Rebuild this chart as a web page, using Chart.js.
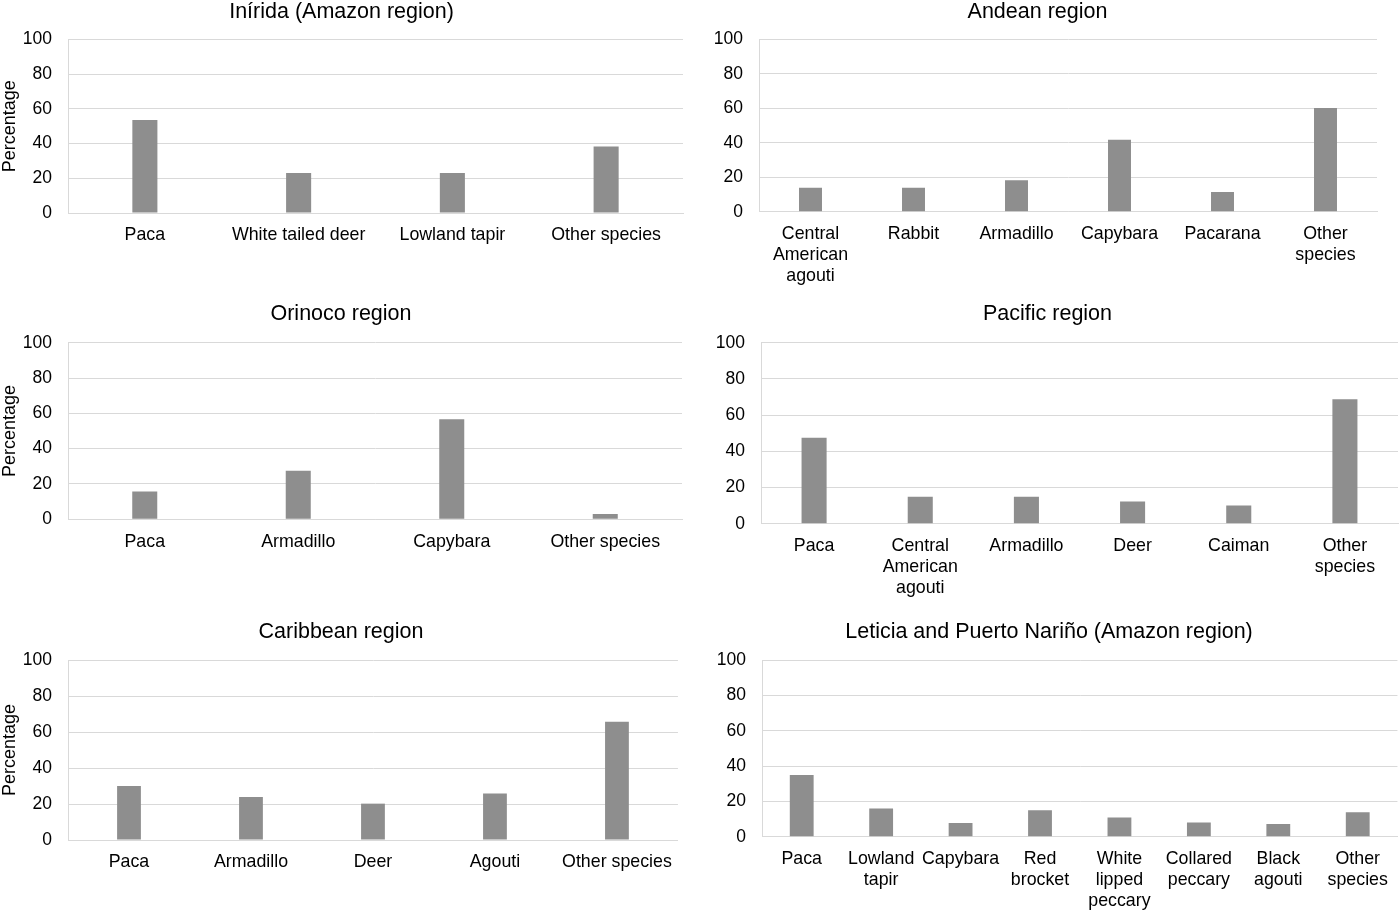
<!DOCTYPE html>
<html>
<head>
<meta charset="utf-8">
<title>Species percentages by region</title>
<script src="https://cdn.jsdelivr.net/npm/chart.js@4.4.1/dist/chart.umd.min.js"></script>
<style>
  html, body { margin: 0; padding: 0; background: #fff; }
  body { width: 1400px; height: 911px; position: relative; overflow: hidden; }
  canvas { position: absolute; }
</style>
</head>
<body>
<canvas id="inirida"></canvas>
<canvas id="andean"></canvas>
<canvas id="orinoco"></canvas>
<canvas id="pacific"></canvas>
<canvas id="caribbean"></canvas>
<canvas id="leticia"></canvas>
<script>
const yTicks = [0, 20, 40, 60, 80, 100];

const iniridaCategories = ["Paca", "White tailed deer", "Lowland tapir", "Other species"];
const iniridaValues = [53.6, 23, 23, 38.3];

const andeanCategories = [["Central", "American", "agouti"], "Rabbit", "Armadillo", "Capybara", "Pacarana", ["Other", "species"]];
const andeanValues = [13.9, 13.9, 18.3, 41.7, 11.4, 60.2];

const orinocoCategories = ["Paca", "Armadillo", "Capybara", "Other species"];
const orinocoValues = [15.8, 27.5, 56.6, 3];

const pacificCategories = ["Paca", ["Central", "American", "agouti"], "Armadillo", "Deer", "Caiman", ["Other", "species"]];
const pacificValues = [47.5, 14.9, 14.9, 12.3, 10, 68.7];

const caribbeanCategories = ["Paca", "Armadillo", "Deer", "Agouti", "Other species"];
const caribbeanValues = [30, 23.9, 20.2, 25.9, 65.7];

const leticiaCategories = ["Paca", ["Lowland", "tapir"], "Capybara", ["Red", "brocket"], ["White", "lipped", "peccary"], ["Collared", "peccary"], ["Black", "agouti"], ["Other", "species"]];
const leticiaValues = [34.9, 16, 7.7, 14.9, 10.8, 8.1, 7.2, 13.8];

const FONT = "'Liberation Sans', Arial, sans-serif";
const BAR_COLOR = "#8e8e8e";
const GRID_COLOR = "#d9d9d9";

// where each small chart sits on the page
const panels = [
  { id: "inirida", title: "Inírida (Amazon region)", labels: iniridaCategories, values: iniridaValues, yTitle: true,
    left: 0, top: 0, bottom: 295, plotLeft: 68, plotRight: 683, plotTop: 39.3, plotBottom: 213, bar: 0.163 },
  { id: "andean", title: "Andean region", labels: andeanCategories, values: andeanValues, yTitle: false,
    left: 698, top: 0, bottom: 295, plotLeft: 759, plotRight: 1377, plotTop: 39.3, plotBottom: 211.7, bar: 0.223 },
  { id: "orinoco", title: "Orinoco region", labels: orinocoCategories, values: orinocoValues, yTitle: true,
    left: 0, top: 302, bottom: 610, plotLeft: 68, plotRight: 682, plotTop: 342.7, plotBottom: 519.3, bar: 0.163 },
  { id: "pacific", title: "Pacific region", labels: pacificCategories, values: pacificValues, yTitle: false,
    left: 697, top: 302, bottom: 610, plotLeft: 761, plotRight: 1398, plotTop: 342.7, plotBottom: 523.7, bar: 0.236 },
  { id: "caribbean", title: "Caribbean region", labels: caribbeanCategories, values: caribbeanValues, yTitle: true,
    left: 0, top: 620, bottom: 911, plotLeft: 68, plotRight: 682, plotTop: 660, plotBottom: 840, bar: 0.195 },
  { id: "leticia", title: "Leticia and Puerto Nariño (Amazon region)", labels: leticiaCategories, values: leticiaValues, yTitle: false,
    left: 700, top: 620, bottom: 911, plotLeft: 762, plotRight: 1398, plotTop: 660, plotBottom: 836.7, bar: 0.30 },
];

const TITLE_LH = 24;
const PAD_RIGHT = 2;

function drawPanel(p) {
  const canvas = document.getElementById(p.id);
  const width = p.plotRight + PAD_RIGHT - p.left;
  const height = p.bottom - p.top;
  canvas.width = width;
  canvas.height = height;
  canvas.style.left = p.left + "px";
  canvas.style.top = p.top + "px";
  canvas.style.width = width + "px";
  canvas.style.height = height + "px";

  new Chart(canvas, {
    type: "bar",
    data: {
      labels: p.labels,
      datasets: [{
        data: p.values,
        backgroundColor: BAR_COLOR,
        borderWidth: 0,
        barPercentage: p.bar,
        categoryPercentage: 1,
      }],
    },
    options: {
      responsive: false,
      animation: false,
      layout: { padding: { left: 0, right: PAD_RIGHT, top: 0, bottom: 0 } },
      plugins: {
        legend: { display: false },
        tooltip: { enabled: false },
        title: {
          display: true,
          text: p.title,
          color: "#000",
          font: { family: FONT, size: 21.5, weight: "normal", lineHeight: TITLE_LH + "px" },
          padding: { top: 0, bottom: p.plotTop - p.top - TITLE_LH },
        },
      },
      scales: {
        x: {
          grid: { display: false, drawTicks: false },
          border: { display: true, color: GRID_COLOR },
          ticks: {
            color: "#000",
            autoSkip: false,
            maxRotation: 0,
            minRotation: 0,
            padding: 12,
            font: { family: FONT, size: 17.8, lineHeight: "21px" },
          },
          afterFit: (s) => { s.height = p.bottom - p.plotBottom; },
        },
        y: {
          min: 0,
          max: 100,
          afterBuildTicks: (s) => { s.ticks = yTicks.map((v) => ({ value: v })); },
          grid: { color: GRID_COLOR, lineWidth: 1, drawTicks: false },
          border: { display: true, color: GRID_COLOR },
          ticks: {
            color: "#000",
            padding: 16,
            font: { family: FONT, size: 17.5 },
          },
          title: {
            display: p.yTitle,
            text: "Percentage",
            color: "#000",
            font: { family: FONT, size: 18, lineHeight: 1.1 },
            padding: { top: 0, bottom: 0 },
          },
          afterFit: (s) => { s.width = p.plotLeft - p.left; },
        },
      },
    },
  });
}

panels.forEach(drawPanel);
</script>
</body>
</html>
